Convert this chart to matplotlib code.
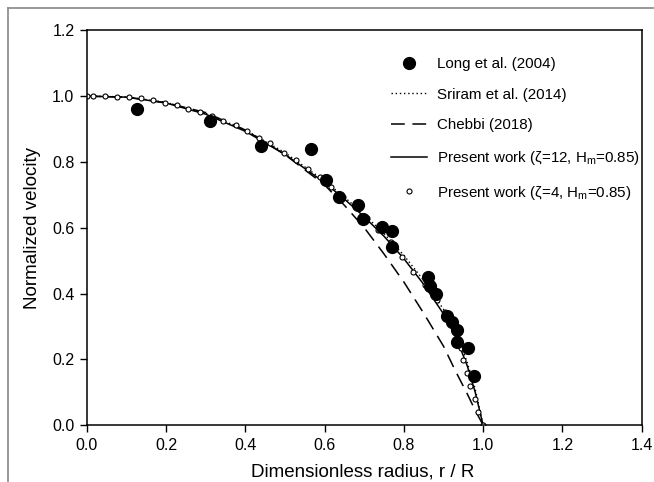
import matplotlib
matplotlib.use("Agg")
import matplotlib.pyplot as plt
from matplotlib.lines import Line2D

plt.rcParams['font.family'] = ['Liberation Sans', 'DejaVu Sans']
plt.rcParams['mathtext.fontset'] = 'custom'
plt.rcParams['mathtext.rm'] = 'Liberation Sans'
plt.rcParams['mathtext.it'] = 'Liberation Sans:italic'

# Long et al. (2004) experimental points
r_long = [0.127, 0.310, 0.439, 0.566, 0.603, 0.637, 0.685, 0.698, 0.744, 0.770, 0.769,
          0.862, 0.867, 0.882, 0.909, 0.922, 0.934, 0.934, 0.963, 0.978]
u_long = [0.960, 0.925, 0.849, 0.839, 0.745, 0.694, 0.669, 0.628, 0.601, 0.590, 0.542,
          0.449, 0.422, 0.398, 0.331, 0.314, 0.289, 0.253, 0.235, 0.150]

# Sriram et al. (2014)
r_sriram = [0.0, 0.1, 0.2, 0.3, 0.4, 0.5, 0.6, 0.65, 0.7, 0.75, 0.8, 0.85, 0.9, 0.93, 0.96, 0.98, 1.0]
u_sriram = [1.0, 0.998, 0.981, 0.948, 0.897, 0.828, 0.742, 0.693, 0.640, 0.582, 0.516, 0.440,
            0.352, 0.290, 0.190, 0.110, 0.0]

# Chebbi (2018)
r_chebbi = [0.0, 0.1, 0.2, 0.3, 0.4, 0.5, 0.6, 0.65, 0.7, 0.75, 0.8, 0.85, 0.9, 0.93, 0.96, 0.98, 1.0]
u_chebbi = [1.0, 0.997, 0.980, 0.950, 0.897, 0.822, 0.730, 0.668, 0.600, 0.520, 0.435, 0.340,
            0.240, 0.165, 0.095, 0.045, 0.0]

# Present work, zeta = 12
r_z12 = [0.0, 0.1, 0.2, 0.3, 0.4, 0.5, 0.6, 0.65, 0.7, 0.75, 0.8, 0.85, 0.9, 0.93, 0.96, 0.98, 1.0]
u_z12 = [1.0, 0.997, 0.979, 0.945, 0.893, 0.823, 0.737, 0.687, 0.633, 0.574, 0.506, 0.428,
         0.338, 0.272, 0.180, 0.100, 0.0]

# Present work, zeta = 4 (open circles)
r_z4 = [0.0, 0.016, 0.046, 0.075, 0.106, 0.137, 0.166, 0.197, 0.227, 0.256, 0.285, 0.316,
        0.344, 0.375, 0.403, 0.435, 0.462, 0.497, 0.527, 0.558, 0.587, 0.617, 0.646, 0.678,
        0.706, 0.735, 0.767, 0.794, 0.824, 0.853, 0.884, 0.903, 0.922, 0.934, 0.944, 0.950,
        0.959, 0.967, 0.980, 0.988, 1.0]
u_z4 = [1.0, 1.0, 1.0, 0.998, 0.997, 0.993, 0.987, 0.980, 0.972, 0.962, 0.951, 0.941,
        0.926, 0.912, 0.894, 0.873, 0.858, 0.828, 0.805, 0.779, 0.754, 0.723, 0.694, 0.666,
        0.630, 0.593, 0.557, 0.512, 0.466, 0.427, 0.380, 0.345, 0.309, 0.274, 0.233, 0.198,
        0.159, 0.119, 0.079, 0.040, 0.0]

xticks = [0.0, 0.2, 0.4, 0.6, 0.8, 1.0, 1.2, 1.4]
yticks = [0.0, 0.2, 0.4, 0.6, 0.8, 1.0, 1.2]

fig = plt.figure(figsize=(6.54, 4.82), dpi=100)
ax = fig.add_axes([0.133, 0.118, 0.848, 0.819])

ax.plot(r_sriram, u_sriram, color='black', linestyle=(0, (1, 2)), linewidth=1.0)
ax.plot(r_chebbi, u_chebbi, color='black', linestyle=(0, (9, 5)), linewidth=1.1)
ax.plot(r_z12, u_z12, color='black', linestyle='-', linewidth=1.1)
ax.plot(r_z4, u_z4, linestyle='none', marker='o', markersize=3.6,
        markerfacecolor='white', markeredgecolor='black', markeredgewidth=0.8)
ax.plot(r_long, u_long, linestyle='none', marker='o', markersize=8.5, color='black')

ax.set_xlim(0, 1.4)
ax.set_ylim(0, 1.2)
ax.set_xticks(xticks)
ax.set_yticks(yticks)
ax.set_xticklabels([f'{v:.1f}' for v in xticks])
ax.set_yticklabels([f'{v:.1f}' for v in yticks])
ax.tick_params(direction='out', length=5, width=1, labelsize=11.5, pad=4)
for s in ax.spines.values():
    s.set_linewidth(1.1)

ax.set_ylabel('Normalized velocity', fontsize=13.5, labelpad=8)
fig.text(0.555, 0.004, 'Dimensionless radius, r / R', fontsize=13.5, ha='center', va='bottom')

handles = [
    Line2D([], [], linestyle='none', marker='o', markersize=8.5, color='black'),
    Line2D([], [], color='black', linestyle=(0, (1, 2)), linewidth=1.0),
    Line2D([], [], color='black', linestyle=(0, (9, 5)), linewidth=1.1),
    Line2D([], [], color='black', linestyle='-', linewidth=1.1),
    Line2D([], [], linestyle='none', marker='o', markersize=3.6,
           markerfacecolor='white', markeredgecolor='black', markeredgewidth=0.8),
]
labels = ['Long et al. (2004)', 'Sriram et al. (2014)', 'Chebbi (2018)',
          'Present work (ζ=12, H$_\\mathrm{m}$=0.85)',
          'Present work (ζ=4, H$_\\mathrm{m}$=0.85)']
ax.legend(handles, labels, loc='upper left', bbox_to_anchor=(0.537, 0.948),
          frameon=False, fontsize=10.9, handlelength=2.4, handletextpad=0.65,
          labelspacing=1.1, borderaxespad=0)

# scan border
fig.add_artist(Line2D([0.012, 1.0], [0.983, 0.983], color='#888888', linewidth=1.2))
fig.add_artist(Line2D([0.012, 0.012], [0.0, 0.983], color='#888888', linewidth=1.2))

fig.savefig('out.png', dpi=100)
